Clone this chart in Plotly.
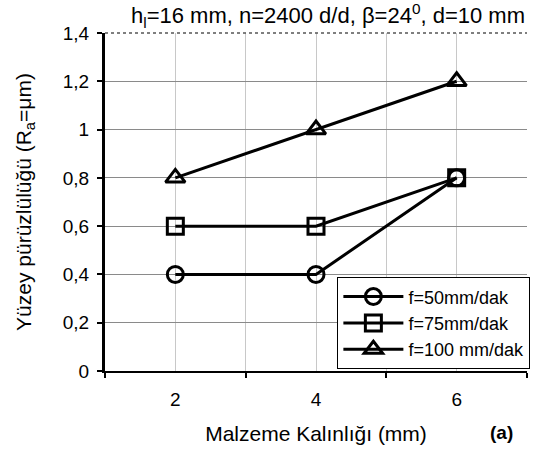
import plotly.graph_objects as go

thickness = [2, 4, 6]
f50 = [0.4, 0.4, 0.8]
f75 = [0.6, 0.6, 0.8]
f100 = [0.8, 1.0, 1.2]
series_names = ["f=50mm/dak", "f=75mm/dak", "f=100 mm/dak"]
symbols = ["circle-open", "square-open", "triangle-up-open"]
marker_sizes = [16, 16, 17]
y_ticks = [0, 0.2, 0.4, 0.6, 0.8, 1.0, 1.2, 1.4]
y_ticktext = ["0", "0,2", "0,4", "0,6", "0,8", "1", "1,2", "1,4"]
x_grid = [2, 3, 4, 5, 6]
x_ticktext = ["2", "", "4", "", "6"]
x_minor = [1, 3, 5, 7]

FONT = "Liberation Sans, Arial, sans-serif"

fig = go.Figure()
for name, vals, sym, ms in zip(series_names, [f50, f75, f100], symbols, marker_sizes):
    fig.add_trace(go.Scatter(
        x=thickness, y=vals, name=name, mode="lines+markers",
        line=dict(color="black", width=3),
        marker=dict(symbol=sym, size=ms, color="black",
                    line=dict(width=3, color="black")),
    ))

fig.update_layout(
    width=533, height=452,
    margin=dict(l=105, r=3, t=33, b=81),
    paper_bgcolor="white", plot_bgcolor="white",
    font=dict(family=FONT, size=19, color="black"),
    showlegend=True,
    legend=dict(x=1.008, xanchor="right", y=0.005, yanchor="bottom",
                bgcolor="white", bordercolor="black", borderwidth=1,
                font=dict(size=18, family=FONT), tracegroupgap=0,
                itemwidth=60),
    xaxis=dict(range=[1, 7], tickvals=x_grid, ticktext=x_ticktext,
               showgrid=True, gridcolor="#c8c8c8", gridwidth=1,
               showline=True, linecolor="black", linewidth=2,
               ticks="", zeroline=False, ticklabelstandoff=10,
               tickfont=dict(size=19),
               minor=dict(tickvals=x_minor, ticks="outside", ticklen=5,
                          tickwidth=2, tickcolor="black", showgrid=False),
               title=dict(text="Malzeme Kalınlığı (mm)", font=dict(size=21),
                          standoff=18)),
    yaxis=dict(range=[0, 1.4], tickvals=y_ticks, ticktext=y_ticktext,
               showgrid=True, gridcolor="#8a8a8a", gridwidth=1,
               showline=True, linecolor="black", linewidth=3,
               ticks="outside", ticklen=5, tickwidth=2, tickcolor="black",
               zeroline=False, ticklabelstandoff=4,
               tickfont=dict(size=19),
               title=dict(text="Yüzey pürüzlülüğü (R<sub>a</sub>=μm)",
                          font=dict(size=21), standoff=26)),
)

fig.add_shape(type="line", xref="paper", yref="paper", x0=0, x1=1, y0=1, y1=1,
              line=dict(color="#555555", width=1.5, dash="dot"))

fig.add_annotation(text="h<sub>l</sub>=16 mm, n=2400 d/d, β=24<sup>0</sup>, d=10 mm",
                   xref="paper", yref="paper", x=1.0, y=1.0, xanchor="right",
                   yanchor="bottom", showarrow=False, yshift=0,
                   font=dict(size=22, family=FONT))
fig.add_annotation(text="<b>(a)</b>", xref="paper", yref="paper", x=0.94,
                   y=0, yshift=-61, xanchor="center", yanchor="middle",
                   showarrow=False, font=dict(size=19, family=FONT))

fig.write_html("out.html")
